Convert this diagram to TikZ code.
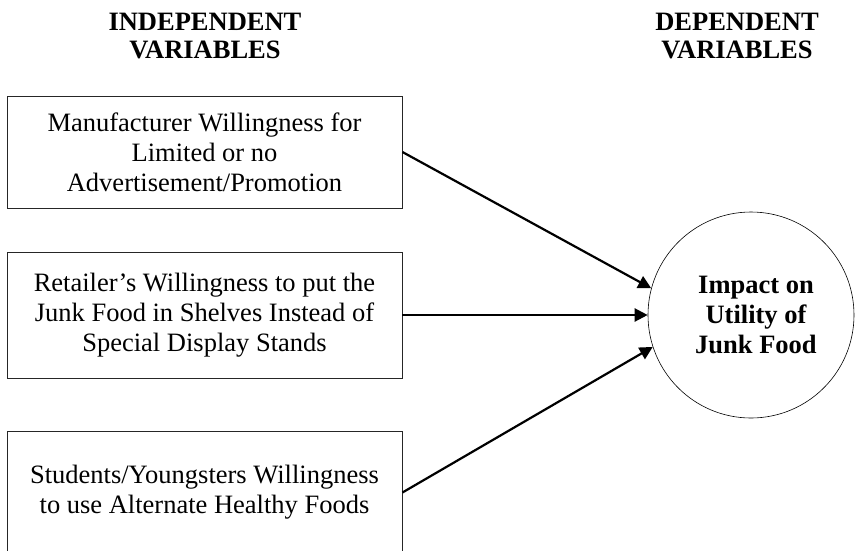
\documentclass[tikz,border=0pt]{standalone}
\usepackage{fontspec}
\setmainfont{Liberation Serif}
\usetikzlibrary{arrows.meta}
\begin{document}
\begin{tikzpicture}[x=1pt,y=-1pt,
  varbox/.style={draw=black!85,line width=0.9pt,rectangle,minimum width=395pt,align=center,inner sep=0pt,
    font=\fontsize{26.5}{30}\selectfont},
  heading/.style={align=center,font=\fontsize{26.5}{28}\selectfont\bfseries},
  outcome/.style={draw,circle,line width=0.6pt,minimum size=206pt,inner sep=0pt},
  outcometext/.style={align=center,inner sep=0pt,font=\fontsize{26.5}{30}\selectfont\bfseries},
  link/.style={line width=2.2pt,-{Triangle[length=13pt,width=13pt]}}]
\useasboundingbox (0,0) rectangle (855,550);
\clip (0,0) rectangle (855,550);
\node[heading] (hind) at (205,36) {INDEPENDENT\\VARIABLES};
\node[heading] (hdep) at (737,36) {DEPENDENT\\VARIABLES};
\node[varbox,minimum height=112pt] (b1) at (204.5,152) {Manufacturer Willingness for\\Limited or no\\Advertisement/Promotion};
\node[varbox,minimum height=126pt] (b2) at (204.5,315) {Retailer’s Willingness to put the\\Junk Food in Shelves Instead of\\Special Display Stands};
\node[varbox,minimum height=123pt] (b3) at (204.5,492.5) {Students/Youngsters Willingness\\to use Alternate Healthy Foods};
\node[outcome] (c) at (751,315) {};
\node[outcometext] (ct) at (756,315) {Impact on\\Utility of\\Junk Food};
\draw[link] (b1.east) -- (c.165);
\draw[link] (b2.east) -- (c.west);
\draw[link] (b3.east) -- (c.198);
\end{tikzpicture}
\end{document}
